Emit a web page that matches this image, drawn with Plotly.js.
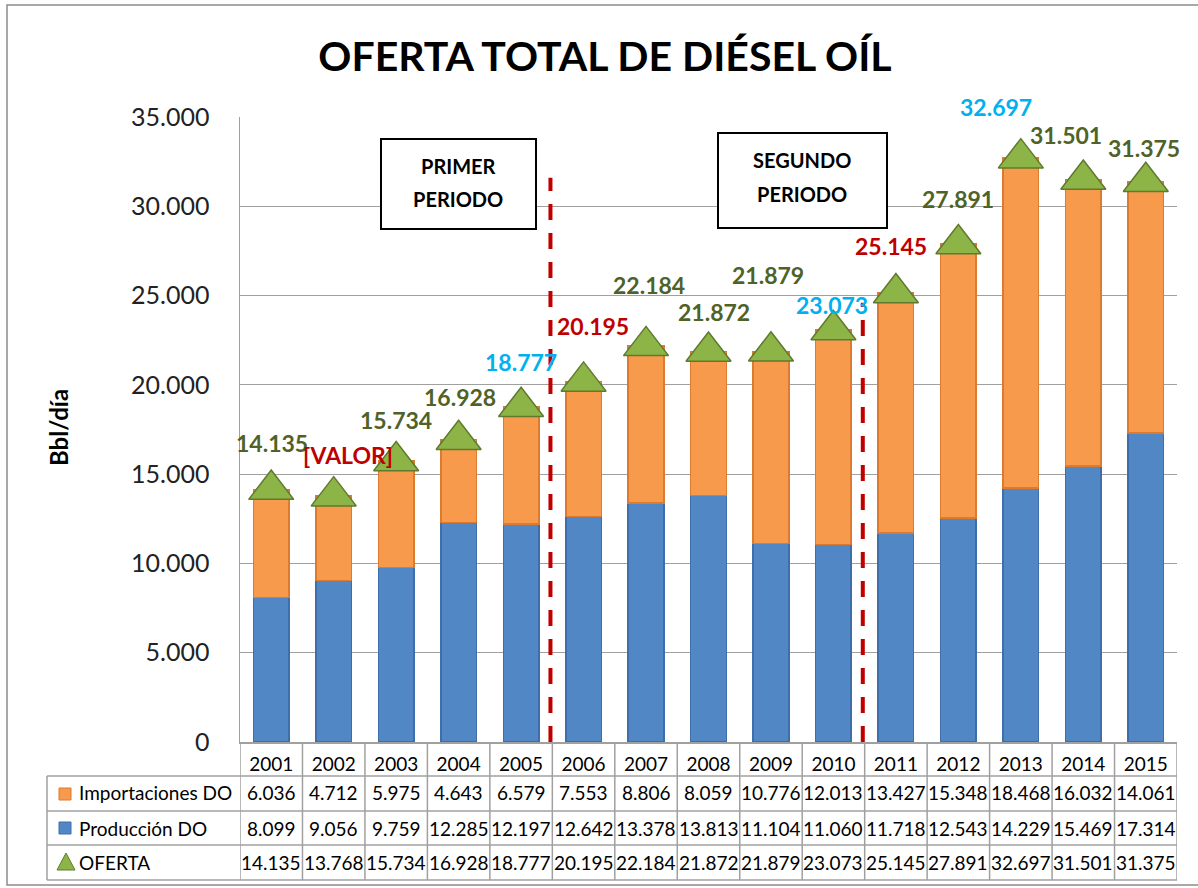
<!DOCTYPE html>
<html>
<head>
<meta charset="utf-8">
<script src="https://cdn.plot.ly/plotly-3.0.1.min.js"></script>
<style>html,body{margin:0;padding:0;background:#fff;}#chart{width:1198px;height:888px;}</style>
</head>
<body>
<div id="chart"></div>
<script>
// ---- data ----
const years = ['2001','2002','2003','2004','2005','2006','2007','2008','2009','2010','2011','2012','2013','2014','2015'];
const importaciones = [6036,4712,5975,4643,6579,7553,8806,8059,10776,12013,13427,15348,18468,16032,14061];
const produccion = [8099,9056,9759,12285,12197,12642,13378,13813,11104,11060,11718,12543,14229,15469,17314];
const oferta = [14135,13768,15734,16928,18777,20195,22184,21872,21879,23073,25145,27891,32697,31501,31375];
const ofertaLabels = ['14.135','[VALOR]','15.734','16.928','18.777','20.195','22.184','21.872','21.879','23.073','25.145','27.891','32.697','31.501','31.375'];
const seriesNames = ['Importaciones DO','Producción DO','OFERTA'];
const yTicks = [0,5000,10000,15000,20000,25000,30000,35000];
const periodNames = ['PRIMER','PERIODO','SEGUNDO','PERIODO'];

// ---- styles / layout helpers ----
const GREEN='#4F6228', RED='#C00000', CYAN='#00B0F0';
const labelColors=[GREEN,RED,GREEN,GREEN,CYAN,RED,GREEN,GREEN,GREEN,CYAN,RED,GREEN,CYAN,GREEN,GREEN];
const labelDx=[1,14,0,1,0,9,3,5,-3,-1,-5,0,-25,-17,-2];
const labelDy=[47,41,41,43,45,55,61,39,76,25,47,45,51,44,34];
const FONT='Lato, "Open Sans", sans-serif';
const L=240, R=21, T=117, B=146, PW=1198-L-R, PH=888-T-B;
const px = x => (x-L)/PW;
const py = y => (888-B-y)/PH;
const fmt = v => String(v).replace(/\B(?=(\d{3})+(?!\d))/g,'.');
const GRID='#A0A0A0';
const idx = years.map((_,i)=>i);

const traces = [
  {type:'bar', x:idx, y:produccion, name:seriesNames[1],
   marker:{color:'#5287C6', line:{color:'#3F6FAA', width:1.5}}, hoverinfo:'y'},
  {type:'bar', x:idx, y:importaciones, name:seriesNames[0],
   marker:{color:'#F89A4C', line:{color:'#DC7A30', width:1.5}}, hoverinfo:'y'},
  {type:'scatter', mode:'markers', x:idx, y:oferta, name:seriesNames[2],
   marker:{symbol:'triangle-up', size:39, color:'#8DB446', line:{color:'#5F7A2E', width:1.5}}, hoverinfo:'y'}
];

const shapes = [];
const annotations = [];

// outer chart border
shapes.push({type:'rect', xref:'paper', yref:'paper', x0:px(7), x1:px(1210), y0:py(5), y1:py(885),
  line:{color:'#8C8C8C', width:1.5}, layer:'below'});

// period dividers (dashed)
shapes.push({type:'line', xref:'x', yref:'y', x0:4.47, x1:4.47, y0:0, y1:31600,
  line:{color:'#C00000', width:4, dash:'16px,13px'}});
shapes.push({type:'line', xref:'x', yref:'y', x0:9.47, x1:9.47, y0:0, y1:24600,
  line:{color:'#C00000', width:4, dash:'16px,13px'}});

// period boxes
shapes.push({type:'rect', xref:'paper', yref:'paper', x0:px(381), x1:px(536), y0:py(139), y1:py(229),
  line:{color:'#000', width:2}, fillcolor:'#fff'});
shapes.push({type:'rect', xref:'paper', yref:'paper', x0:px(718), x1:px(887), y0:py(133), y1:py(228),
  line:{color:'#000', width:2}, fillcolor:'#fff'});
[[periodNames[0],458,166],[periodNames[1],458,199],[periodNames[2],802,160],[periodNames[3],802,194]].forEach(p=>{
  annotations.push({xref:'paper', yref:'paper', x:px(p[1]), y:py(p[2]), text:p[0], showarrow:false,
    xanchor:'center', yanchor:'middle', font:{family:FONT, size:20, weight:'bold', color:'#000'}});
});

// data labels over OFERTA
oferta.forEach((v,i)=>{
  annotations.push({xref:'x', yref:'y', x:idx[i], y:v, text:ofertaLabels[i], showarrow:false,
    xanchor:'center', yanchor:'middle', xshift:labelDx[i], yshift:labelDy[i],
    font:{family:FONT, size:23, weight:'bold', color:labelColors[i]}});
});

// y axis title
annotations.push({xref:'paper', yref:'paper', x:px(58), y:py(428), text:'Bbl/día', textangle:-90,
  showarrow:false, xanchor:'center', yanchor:'middle', font:{family:FONT, size:24, weight:'bold', color:'#000'}});

// ---- data table ----
const rowY = [793, 828, 862];
const rowLines = [776, 811, 845, 880];
rowLines.forEach(y=>{
  shapes.push({type:'line', xref:'paper', yref:'paper', x0:px(47), x1:1, y0:py(y), y1:py(y),
    line:{color:GRID, width:1.5}});
});
shapes.push({type:'line', xref:'paper', yref:'paper', x0:px(47), x1:px(47), y0:py(776), y1:py(880),
  line:{color:GRID, width:1.5}});
for(let i=0;i<=years.length;i++){
  shapes.push({type:'line', xref:'x', yref:'paper', x0:i-0.5, x1:i-0.5, y0:0, y1:py(880),
    line:{color:GRID, width:1.5}});
}
const rows = [importaciones, produccion, oferta];
rows.forEach((arr,r)=>{
  arr.forEach((v,i)=>{
    annotations.push({xref:'x', yref:'paper', x:idx[i], y:py(rowY[r]), text:fmt(v), showarrow:false,
      xanchor:'center', yanchor:'middle', font:{family:FONT, size:19, color:'#000'}});
  });
  annotations.push({xref:'paper', yref:'paper', x:px(77), y:py(rowY[r]), text:seriesNames[r], showarrow:false,
    xanchor:'left', yanchor:'middle', font:{family:FONT, size:19, color:'#000'}});
});
// legend keys
shapes.push({type:'rect', xref:'paper', yref:'paper', x0:px(59), x1:px(71), y0:py(788), y1:py(800),
  line:{color:'#DC7A30', width:1}, fillcolor:'#F89A4C'});
shapes.push({type:'rect', xref:'paper', yref:'paper', x0:px(59), x1:px(71), y0:py(822), y1:py(834),
  line:{color:'#3F6FAA', width:1}, fillcolor:'#5287C6'});
shapes.push({type:'path', xref:'paper', yref:'paper',
  path:`M ${px(57)} ${py(870)} L ${px(75)} ${py(870)} L ${px(66)} ${py(853)} Z`,
  line:{color:'#5F7A2E', width:1}, fillcolor:'#8DB446'});

const layout = {
  width:1198, height:888,
  margin:{l:L, r:R, t:T, b:B},
  paper_bgcolor:'#fff', plot_bgcolor:'#fff',
  separators:',.',
  barmode:'stack', bargap:0.43,
  showlegend:false,
  title:{text:'OFERTA TOTAL DE DIÉSEL OÍL', x:0.505, xanchor:'center', y:1-57/888, yanchor:'middle',
    font:{family:FONT, size:41, weight:'bold', color:'#000'}},
  xaxis:{type:'linear', range:[-0.5, years.length-0.5], tickvals:idx, ticktext:years,
    showgrid:false, zeroline:false, showline:true, linecolor:GRID, linewidth:1.5,
    ticks:'', ticklabelstandoff:5, tickfont:{family:FONT, size:19, color:'#000'}, fixedrange:true},
  yaxis:{range:[0,35000], tickvals:yTicks, tickformat:',d', showgrid:true, gridcolor:GRID, gridwidth:1,
    zeroline:false, showline:true, linecolor:GRID, linewidth:1.5, ticks:'', ticklabelstandoff:24,
    tickfont:{family:FONT, size:25, color:'#222'}, fixedrange:true},
  shapes:shapes, annotations:annotations
};

Plotly.newPlot('chart', traces, layout, {displayModeBar:false, staticPlot:true});
</script>
</body>
</html>
